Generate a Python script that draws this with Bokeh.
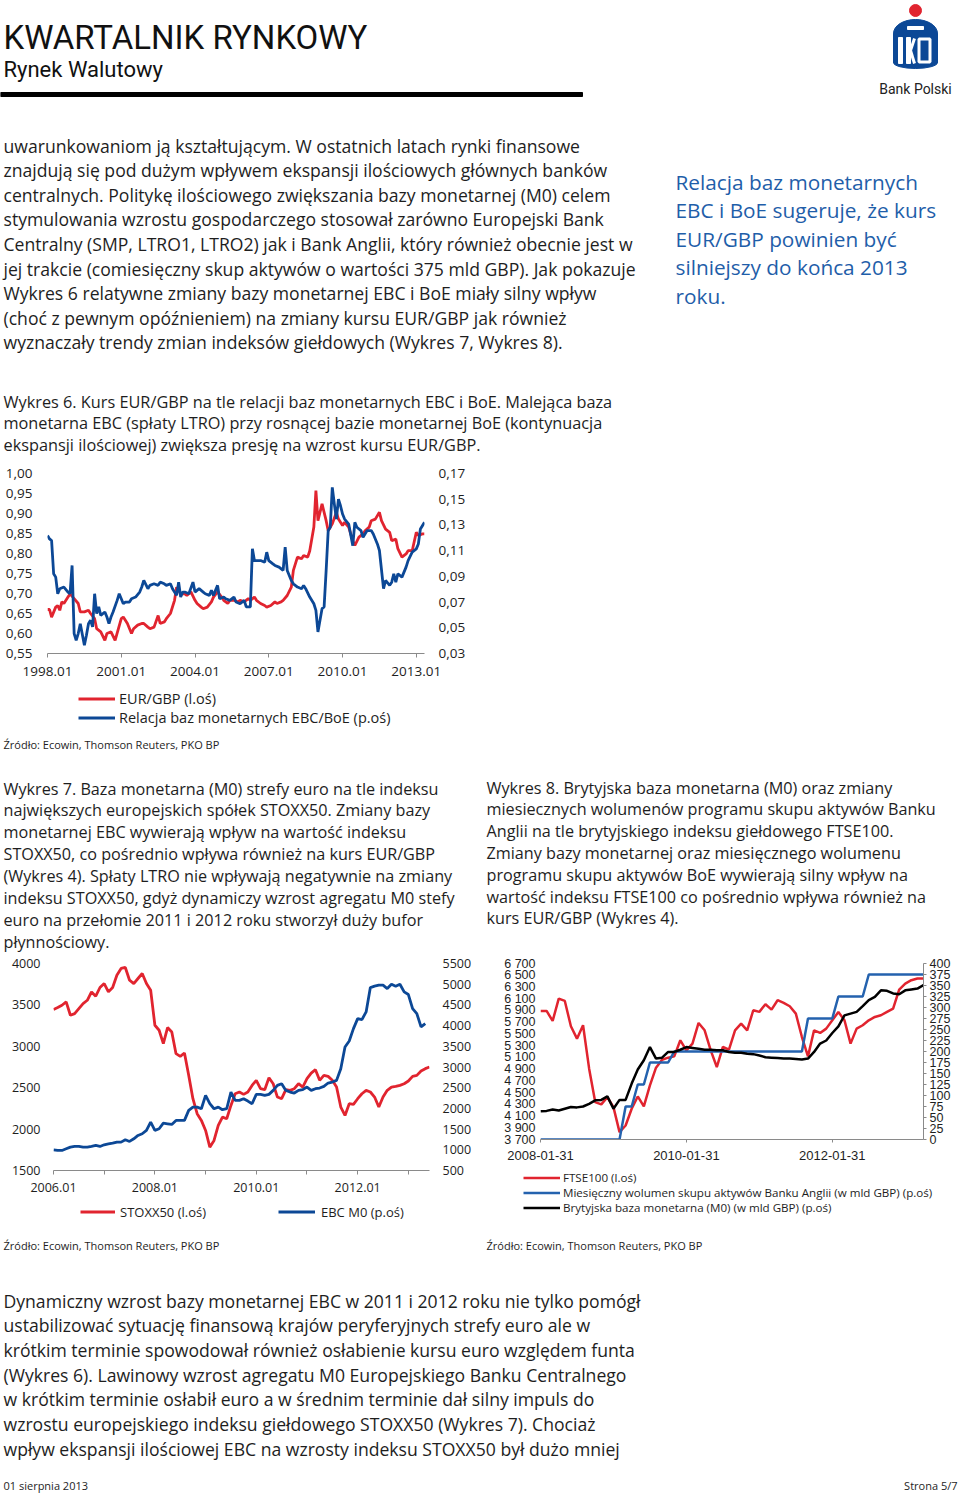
import numpy as np
from bokeh.plotting import figure
from bokeh.models import (Range1d, LinearAxis, FixedTicker, CustomJSTickFormatter,
                          Legend, LegendItem)
from bokeh.layouts import column, row
from bokeh.embed import file_html
from bokeh.resources import INLINE
from bokeh.core.properties import value

# ---------------- DATA ----------------
# Wykres 6 - months since 1998-01
eurgbp_t = [0, 1, 2, 4, 5, 6, 7, 8, 10, 11,
            13, 15, 16, 18, 20, 21, 23, 24, 26, 28,
            29, 31, 33, 36, 37, 39, 41, 42, 44, 46,
            47, 49, 50, 52, 54, 55, 57, 58, 60, 62,
            63, 65, 67, 68, 70, 72, 73, 75, 76, 78,
            80, 81, 83, 85, 86, 88, 89, 91, 93, 94,
            96, 98, 99, 101, 102, 104, 106, 107, 109, 111,
            112, 114, 115, 117, 119, 120, 122, 124, 125, 127,
            128, 130, 131, 132, 134, 136, 137, 139, 141, 142,
            144, 145, 147, 149, 150, 152, 154, 155, 157, 158,
            160, 162, 163, 165, 167, 168, 170, 171, 173, 175,
            176, 178, 180, 181, 183, 184]
eurgbp = [0.660, 0.660, 0.641, 0.666, 0.670, 0.658, 0.679, 0.675, 0.691, 0.699,
          0.687, 0.675, 0.654, 0.654, 0.658, 0.650, 0.637, 0.612, 0.604, 0.583,
          0.600, 0.604, 0.583, 0.637, 0.641, 0.625, 0.600, 0.612, 0.621, 0.625,
          0.625, 0.616, 0.612, 0.616, 0.645, 0.625, 0.629, 0.637, 0.650, 0.683,
          0.716, 0.699, 0.699, 0.695, 0.704, 0.683, 0.675, 0.666, 0.662, 0.666,
          0.679, 0.691, 0.704, 0.691, 0.683, 0.675, 0.683, 0.683, 0.679, 0.683,
          0.679, 0.687, 0.683, 0.691, 0.683, 0.675, 0.670, 0.666, 0.670, 0.679,
          0.675, 0.679, 0.683, 0.695, 0.716, 0.758, 0.791, 0.787, 0.795, 0.791,
          0.807, 0.866, 0.957, 0.882, 0.924, 0.882, 0.857, 0.874, 0.903, 0.886,
          0.870, 0.878, 0.866, 0.832, 0.820, 0.841, 0.849, 0.857, 0.866, 0.882,
          0.886, 0.903, 0.882, 0.861, 0.853, 0.832, 0.836, 0.812, 0.791, 0.799,
          0.807, 0.807, 0.853, 0.845, 0.849, 0.849]
ratio_t = [0, 1, 2, 3, 4, 5, 6, 8, 10, 11,
           12, 13, 14, 15, 16, 18, 19, 20, 21, 22,
           23, 24, 25, 26, 28, 29, 30, 31, 32, 34,
           35, 37, 38, 40, 41, 43, 45, 46, 47, 49,
           50, 52, 54, 55, 57, 58, 60, 61, 63, 64,
           65, 66, 67, 69, 71, 72, 74, 76, 77, 79,
           80, 81, 83, 84, 86, 87, 89, 91, 92, 94,
           96, 97, 99, 100, 101, 102, 104, 106, 107, 108,
           110, 111, 113, 115, 116, 117, 119, 120, 122, 124,
           125, 126, 128, 130, 131, 132, 134, 135, 136, 137,
           138, 139, 140, 141, 142, 143, 144, 145, 147, 149,
           150, 151, 153, 154, 156, 158, 159, 161, 162, 164,
           165, 167, 168, 169, 170, 171, 173, 175, 176, 178,
           180, 181, 182, 184]
ratio = [0.1217, 0.1191, 0.1178, 0.0920, 0.0894, 0.0765, 0.0804, 0.0817, 0.0778, 0.0765,
         0.0985, 0.0455, 0.0403, 0.0455, 0.0532, 0.0365, 0.0442, 0.0532, 0.0558, 0.0507,
         0.0765, 0.0610, 0.0662, 0.0597, 0.0623, 0.0584, 0.0532, 0.0584, 0.0623, 0.0713,
         0.0765, 0.0687, 0.0700, 0.0700, 0.0726, 0.0739, 0.0778, 0.0817, 0.0868, 0.0804,
         0.0830, 0.0842, 0.0830, 0.0855, 0.0842, 0.0830, 0.0842, 0.0804, 0.0752, 0.0855,
         0.0739, 0.0778, 0.0778, 0.0765, 0.0855, 0.0778, 0.0804, 0.0778, 0.0765, 0.0752,
         0.0791, 0.0752, 0.0830, 0.0726, 0.0739, 0.0726, 0.0713, 0.0739, 0.0700, 0.0687,
         0.0713, 0.0662, 0.0662, 0.1114, 0.1023, 0.1023, 0.1023, 0.1010, 0.1088, 0.1023,
         0.0997, 0.0985, 0.0972, 0.0946, 0.1127, 0.0946, 0.0868, 0.0842, 0.0817, 0.0804,
         0.0830, 0.0804, 0.0739, 0.0687, 0.0636, 0.0468, 0.0649, 0.0662, 0.0946, 0.1256,
         0.1282, 0.1592, 0.1462, 0.1346, 0.1501, 0.1449, 0.1385, 0.1346, 0.1307, 0.1139,
         0.1320, 0.1282, 0.1256, 0.1204, 0.1256, 0.1256, 0.1230, 0.1152, 0.1101, 0.0804,
         0.0868, 0.0830, 0.0855, 0.0920, 0.0855, 0.0920, 0.0894, 0.0972, 0.1023, 0.1088,
         0.1114, 0.1152, 0.1269, 0.1320]
c6_left_ticks = [0.55, 0.60, 0.65, 0.70, 0.75, 0.80, 0.85, 0.90, 0.95, 1.00]
c6_right_ticks = [0.03, 0.05, 0.07, 0.09, 0.11, 0.13, 0.15, 0.17]
c6_x_ticks = [0, 36, 72, 108, 144, 180]
c6_x_labels = ["1998.01", "2001.01", "2004.01", "2007.01", "2010.01", "2013.01"]

# Wykres 7 - monthly from 2006-01
stoxx50 = [3444, 3468, 3496, 3536, 3375, 3395, 3456, 3516, 3556, 3657,
           3605, 3710, 3758, 3657, 3710, 3859, 3940, 3952, 3798, 3758,
           3819, 3879, 3758, 3677, 3254, 3194, 3032, 3226, 3173, 2911,
           2879, 2919, 2649, 2367, 2186, 2105, 1984, 1782, 1863, 2044,
           2145, 2125, 2286, 2427, 2448, 2419, 2448, 2528, 2589, 2488,
           2476, 2621, 2548, 2387, 2367, 2476, 2468, 2488, 2548, 2508,
           2609, 2677, 2718, 2589, 2649, 2637, 2589, 2508, 2266, 2165,
           2307, 2298, 2367, 2427, 2468, 2448, 2387, 2266, 2387, 2468,
           2508, 2516, 2528, 2548, 2581, 2637, 2649, 2702, 2730, 2750]
ebc_m0 = [1000, 984, 984, 1024, 1064, 1081, 1081, 1064, 1064, 1081,
          1105, 1081, 1121, 1145, 1161, 1185, 1185, 1242, 1202, 1266,
          1347, 1387, 1468, 1669, 1468, 1508, 1645, 1629, 1613, 1710,
          1710, 1710, 1952, 2032, 2032, 1992, 2314, 2113, 1992, 2032,
          1968, 1992, 2395, 2193, 2193, 2234, 2177, 2113, 2339, 2339,
          2314, 2339, 2435, 2556, 2597, 2435, 2395, 2371, 2435, 2452,
          2516, 2435, 2476, 2492, 2532, 2613, 2637, 2677, 2960, 3484,
          3629, 3927, 4169, 4145, 4331, 4919, 4952, 4976, 4976, 4895,
          5000, 4952, 5000, 4815, 4750, 4411, 4290, 3968, 4048]
c7_left_ticks = [1500, 2000, 2500, 3000, 3500, 4000]
c7_right_ticks = [500, 1000, 1500, 2000, 2500, 3000, 3500, 4000, 4500, 5000, 5500]
c7_x_ticks = [0, 24, 48, 72]
c7_x_minor = [12, 36, 60, 84]
c7_x_labels = ["2006.01", "2008.01", "2010.01", "2012.01"]

# Wykres 8 - monthly from 2008-01
ftse100 = [5892, 5892, 5721, 6102, 6062, 5630, 5419, 5647, 4907, 4338,
           4298, 4423, 4252, 3825, 3939, 4224, 4434, 4263, 4622, 4924,
           5060, 5095, 5117, 5391, 5220, 5334, 5687, 5561, 5220, 4935,
           5277, 5231, 5561, 5675, 5561, 5903, 5875, 6005, 5914, 6074,
           6028, 5971, 5846, 5447, 5117, 5561, 5516, 5590, 5732, 5875,
           5732, 5334, 5590, 5647, 5732, 5789, 5818, 5875, 5931, 6256,
           6358, 6415, 6444, 6444]
boe_qe = [0, 0, 0, 0, 0, 0, 0, 0, 0, 0,
          0, 0, 0, 0, 75, 75, 125, 125, 175, 175,
          175, 175, 200, 200, 200, 200, 200, 200, 200, 200,
          200, 200, 200, 200, 200, 200, 200, 200, 200, 200,
          200, 200, 200, 200, 275, 275, 275, 275, 275, 325,
          325, 325, 325, 325, 375, 375, 375, 375, 375, 375,
          375, 375, 375, 375]
boe_m0 = [64, 65, 68, 66, 70, 74, 73, 75, 81, 89,
          90, 98, 70, 90, 90, 127, 159, 180, 210, 184,
          186, 199, 199, 204, 210, 208, 206, 204, 204, 203,
          203, 199, 197, 197, 195, 194, 191, 187, 186, 185,
          184, 184, 183, 182, 184, 199, 218, 225, 242, 257,
          282, 286, 290, 303, 317, 324, 339, 338, 332, 330,
          339, 341, 343, 351]
c8_left_ticks = [3700, 3900, 4100, 4300, 4500, 4700, 4900, 5100, 5300, 5500,
                 5700, 5900, 6100, 6300, 6500, 6700]
c8_left_labels = ["3 700", "3 900", "4 100", "4 300", "4 500", "4 700", "4 900", "5 100",
                  "5 300", "5 500", "5 700", "5 900", "6 100", "6 300", "6 500", "6 700"]
c8_right_ticks = [0, 25, 50, 75, 100, 125, 150, 175, 200, 225, 250, 275, 300, 325, 350, 375, 400]
c8_x_ticks = [0, 24, 48]
c8_x_labels = ["2008-01-31", "2010-01-31", "2012-01-31"]

# ---------------- TEXT ----------------
TITLE = "KWARTALNIK RYNKOWY"
SUBTITLE = "Rynek Walutowy"
BODY = ["uwarunkowaniom ją kształtującym. W ostatnich latach rynki finansowe",
        "znajdują się pod dużym wpływem ekspansji ilościowych głównych banków",
        "centralnych. Politykę ilościowego zwiększania bazy monetarnej (M0) celem",
        "stymulowania wzrostu gospodarczego stosował zarówno Europejski Bank",
        "Centralny (SMP, LTRO1, LTRO2) jak i Bank Anglii, który również obecnie jest w",
        "jej trakcie (comiesięczny skup aktywów o wartości 375 mld GBP). Jak pokazuje",
        "Wykres 6 relatywne zmiany bazy monetarnej EBC i BoE miały silny wpływ",
        "(choć z pewnym opóźnieniem) na zmiany kursu EUR/GBP jak również",
        "wyznaczały trendy zmian indeksów giełdowych (Wykres 7, Wykres 8)."]
SIDE = ["Relacja baz monetarnych", "EBC i BoE sugeruje, że kurs", "EUR/GBP powinien być",
        "silniejszy do końca 2013", "roku."]
CAP6 = ["Wykres 6. Kurs EUR/GBP na tle relacji baz monetarnych EBC i BoE. Malejąca baza",
        "monetarna EBC (spłaty LTRO) przy rosnącej bazie monetarnej BoE (kontynuacja",
        "ekspansji ilościowej) zwiększa presję na wzrost kursu EUR/GBP."]
CAP7 = ["Wykres 7. Baza monetarna (M0) strefy euro na tle indeksu",
        "największych europejskich spółek STOXX50. Zmiany bazy",
        "monetarnej EBC wywierają wpływ na wartość indeksu",
        "STOXX50, co pośrednio wpływa również na kurs EUR/GBP",
        "(Wykres 4). Spłaty LTRO nie wpływają negatywnie na zmiany",
        "indeksu STOXX50, gdyż dynamiczy wzrost agregatu M0 stefy",
        "euro na przełomie 2011 i 2012 roku stworzył duży bufor",
        "płynnościowy."]
CAP8 = ["Wykres 8. Brytyjska baza monetarna (M0) oraz zmiany",
        "miesiecznych wolumenów programu skupu aktywów Banku",
        "Anglii na tle brytyjskiego indeksu giełdowego FTSE100.",
        "Zmiany bazy monetarnej oraz miesięcznego wolumenu",
        "programu skupu aktywów BoE wywierają silny wpływ na",
        "wartość indeksu FTSE100 co pośrednio wpływa również na",
        "kurs EUR/GBP (Wykres 4)."]
PARA = ["Dynamiczny wzrost bazy monetarnej EBC w 2011 i 2012 roku nie tylko pomógł",
        "ustabilizować sytuację finansową krajów peryferyjnych strefy euro ale w",
        "krótkim terminie spowodował również osłabienie kursu euro względem funta",
        "(Wykres 6). Lawinowy wzrost agregatu M0 Europejskiego Banku Centralnego",
        "w krótkim terminie osłabił euro a w średnim terminie dał silny impuls do",
        "wzrostu europejskiego indeksu giełdowego STOXX50 (Wykres 7). Chociaż",
        "wpływ ekspansji ilościowej EBC na wzrosty indeksu STOXX50 był dużo mniej"]
SOURCE = "Źródło: Ecowin, Thomson Reuters, PKO BP"
LEG6 = ["EUR/GBP (l.oś)", "Relacja baz monetarnych EBC/BoE (p.oś)"]
LEG7 = ["STOXX50 (l.oś)", "EBC M0 (p.oś)"]
LEG8 = ["FTSE100 (l.oś)",
        "Miesięczny wolumen skupu aktywów Banku Anglii (w mld GBP) (p.oś)",
        "Brytyjska baza monetarna (M0) (w mld GBP) (p.oś)"]

# ---------------- STYLE ----------------
FONT = "Open Sans"
HEAD = "Roboto"
RED = "#e1242f"
NAVY = "#0c4896"
BLUE8 = "#2462ae"
TXT = "#1e1e1e"
BLUE_TXT = "#1f5ea9"
AX = "#8a8a8a"
W = 958


def text_fig(w, h):
    p = figure(width=w, height=h, x_range=Range1d(0, w), y_range=Range1d(h, 0),
               output_backend="svg", toolbar_location=None,
               x_axis_location=None, y_axis_location=None,
               min_border=0, outline_line_color=None, frame_align=False,
               background_fill_color="white", border_fill_color="white")
    p.min_border_left = p.min_border_right = p.min_border_top = p.min_border_bottom = 0
    p.xgrid.grid_line_color = None
    p.ygrid.grid_line_color = None
    return p


def put(p, x, y, lines, size, dy=0.0, color=TXT, font=FONT, align="left"):
    ys = [y + i * dy for i in range(len(lines))]
    p.text(x=[x] * len(lines), y=ys, text=lines, text_font=value(font),
           text_font_size=value(f"{size}px"), text_color=color,
           text_baseline="middle", text_align=align)


def chart(w, h, xr, yr, bl, br, bt, bb):
    p = figure(width=w, height=h, x_range=Range1d(*xr), y_range=Range1d(*yr),
               output_backend="svg", toolbar_location=None, frame_align=False,
               min_border_left=bl, min_border_right=br, min_border_top=bt,
               min_border_bottom=bb, outline_line_color=None,
               background_fill_color="white", border_fill_color="white")
    p.xgrid.grid_line_color = None
    p.ygrid.grid_line_color = None
    return p


def style_axis(ax, size, font=FONT, line=False, tick_out=0, standoff=8):
    ax.major_label_text_font = font
    ax.major_label_text_font_size = f"{size}px"
    ax.major_label_text_color = TXT
    ax.axis_line_color = AX if line else None
    ax.major_tick_line_color = AX if tick_out else None
    ax.major_tick_out = tick_out
    ax.major_tick_in = 0
    ax.minor_tick_line_color = None
    ax.major_label_standoff = standoff


def legend_in(p, entries, loc, size, gh, gw=37, standoff=4):
    """Legend drawn inside a text strip; swatch renderers sit outside the visible range."""
    items = []
    for label, color, lw in entries:
        r = p.line(x=[-200, -190], y=[-200, -200], line_color=color, line_width=lw)
        items.append(LegendItem(label=label, renderers=[r]))
    lg = Legend(items=items, location=loc, orientation="vertical",
                glyph_width=gw, glyph_height=gh, label_height=gh,
                label_standoff=standoff, spacing=0, padding=0, margin=0,
                border_line_color=None, background_fill_alpha=0,
                label_text_font=FONT, label_text_font_size=f"{size}px",
                label_text_color=TXT)
    p.add_layout(lg)


# ---------------- PIECE A: header + text ----------------
A = text_fig(W, 455)
put(A, 3, 37, [TITLE], 33, font=HEAD, color="#111111")
put(A, 3, 69, [SUBTITLE], 22, font=HEAD, color="#111111")
A.quad(left=[0], right=[582], top=[92], bottom=[96], color="#000000")
# logo
A.ellipse(x=[915], y=[33], width=44, height=28, color=NAVY)
A.quad(left=[893], right=[937], top=[33], bottom=[62], color=NAVY)
A.ellipse(x=[915], y=[62], width=44, height=12, color=NAVY)
A.circle(x=[915], y=[10], radius=6, color=RED)
A.quad(left=[907], right=[923], top=[26], bottom=[29], color="white")
A.quad(left=[898], right=[902], top=[37], bottom=[63], color="white")
A.quad(left=[906], right=[910], top=[37], bottom=[63], color="white")
A.segment(x0=[910], y0=[50], x1=[914], y1=[38], line_color="white", line_width=3)
A.segment(x0=[910], y0=[50], x1=[914], y1=[63], line_color="white", line_width=3)
A.rect(x=[924], y=[50], width=11, height=23, fill_color=None, line_color="white", line_width=3)
put(A, 915, 88, ["Bank Polski"], 14, font=HEAD, align="center", color="#222222")
put(A, 3, 145, BODY, 17.6, dy=24.6)
put(A, 675, 181, SIDE, 20.8, dy=28.5, color=BLUE_TXT)
put(A, 3, 401, CAP6, 16.3, dy=21.5)

# ---------------- PIECE B: Wykres 6 ----------------
c6 = chart(W, 232, (0, 184), (0.55, 1.00), 47, W - 424, 18, 34)
c6.extra_y_ranges = {"r": Range1d(0.03, 0.17)}
c6.line(eurgbp_t, eurgbp, line_color=RED, line_width=2.8)
c6.line(ratio_t, ratio, line_color=NAVY, line_width=2.8, y_range_name="r")
c6.yaxis.ticker = FixedTicker(ticks=c6_left_ticks)
c6.yaxis.formatter = CustomJSTickFormatter(code="return tick.toFixed(2).replace('.', ',');")
style_axis(c6.yaxis[0], 13.5, standoff=15)
ax6r = LinearAxis(y_range_name="r", ticker=FixedTicker(ticks=c6_right_ticks),
                  formatter=CustomJSTickFormatter(code="return tick.toFixed(2).replace('.', ',');"))
style_axis(ax6r, 13.5, standoff=14)
c6.add_layout(ax6r, "right")
c6.xaxis.ticker = FixedTicker(ticks=c6_x_ticks)
c6.xaxis.major_label_overrides = dict(zip(c6_x_ticks, c6_x_labels))
style_axis(c6.xaxis[0], 13.5, line=True, tick_out=4, standoff=9)

# ---------------- PIECE C: legend 6 + source + captions ----------------
C = text_fig(W, 265)
legend_in(C, [(LEG6[0], RED, 2.8), (LEG6[1], NAVY, 2.8)], (78, 225), 14.5, 19, gw=37, standoff=4)
put(C, 3, 57, [SOURCE], 11)
put(C, 3, 101, CAP7, 16.2, dy=21.86)
put(C, 486, 100, CAP8, 16.2, dy=21.83)

# ---------------- PIECE D: Wykres 7 and 8 ----------------
c7 = chart(482, 246, (0, 89), (1500, 4000), 53, 53, 11, 28)
c7.extra_y_ranges = {"r": Range1d(500, 5500)}
c7.line(np.arange(len(stoxx50)), stoxx50, line_color=RED, line_width=2.8)
c7.line(np.arange(len(ebc_m0)), ebc_m0, line_color=NAVY, line_width=2.8, y_range_name="r")
c7.yaxis.ticker = FixedTicker(ticks=c7_left_ticks)
style_axis(c7.yaxis[0], 12.5, standoff=13)
ax7r = LinearAxis(y_range_name="r", ticker=FixedTicker(ticks=c7_right_ticks))
style_axis(ax7r, 12.5, standoff=13)
c7.add_layout(ax7r, "right")
c7.xaxis.ticker = FixedTicker(ticks=c7_x_ticks, minor_ticks=c7_x_minor)
c7.xaxis.major_label_overrides = dict(zip(c7_x_ticks, c7_x_labels))
style_axis(c7.xaxis[0], 12.5, line=True, tick_out=4, standoff=8)
c7.xaxis.minor_tick_line_color = AX
c7.xaxis.minor_tick_out = 4
c7.xaxis.minor_tick_in = 0

L7 = text_fig(482, 34)
legend_in(L7, [(LEG7[0], RED, 2.8)], (80, 11), 13, 19, gw=35, standoff=5)
legend_in(L7, [(LEG7[1], NAVY, 2.8)], (278, 11), 13, 19, gw=37, standoff=6)

W8 = W - 482
c8 = chart(W8, 213, (0, 63), (3700, 6700), 58, W8 - 441, 11, 26)
c8.extra_y_ranges = {"r": Range1d(0, 400)}
c8.line(np.arange(len(ftse100)), ftse100, line_color=RED, line_width=2.5)
c8.line(np.arange(len(boe_qe)), boe_qe, line_color=BLUE8, line_width=2.5, y_range_name="r")
c8.line(np.arange(len(boe_m0)), boe_m0, line_color="#000000", line_width=2.5, y_range_name="r")
c8.yaxis.ticker = FixedTicker(ticks=c8_left_ticks)
c8.yaxis.major_label_overrides = dict(zip(c8_left_ticks, c8_left_labels))
style_axis(c8.yaxis[0], 12.5, font="Liberation Sans", standoff=5)
ax8r = LinearAxis(y_range_name="r", ticker=FixedTicker(ticks=c8_right_ticks))
style_axis(ax8r, 12.5, font="Liberation Sans", line=True, tick_out=3, standoff=3)
c8.add_layout(ax8r, "right")
c8.xaxis.ticker = FixedTicker(ticks=c8_x_ticks)
c8.xaxis.major_label_overrides = dict(zip(c8_x_ticks, c8_x_labels))
style_axis(c8.xaxis[0], 13, font="Liberation Sans", line=True, tick_out=3, standoff=8)

L8 = text_fig(W8, 67)
legend_in(L8, [(LEG8[0], RED, 2.5), (LEG8[1], BLUE8, 2.5), (LEG8[2], "#000000", 2.5)],
          (41, 17), 11.6, 15, gw=37, standoff=3)

# ---------------- PIECE E: sources + paragraph + footer ----------------
E = text_fig(W, 262)
put(E, 3, 13, [SOURCE], 11)
put(E, 486, 13, [SOURCE], 11)
put(E, 3, 68, PARA, 17.6, dy=24.7)
put(E, 3, 253, ["01 sierpnia 2013"], 11)
put(E, 957, 253, ["Strona 5/7"], 11, align="right")

page = column(A, c6, C, row(column(c7, L7), column(c8, L8)), E)
open("out.html", "w").write(file_html(page, INLINE))
